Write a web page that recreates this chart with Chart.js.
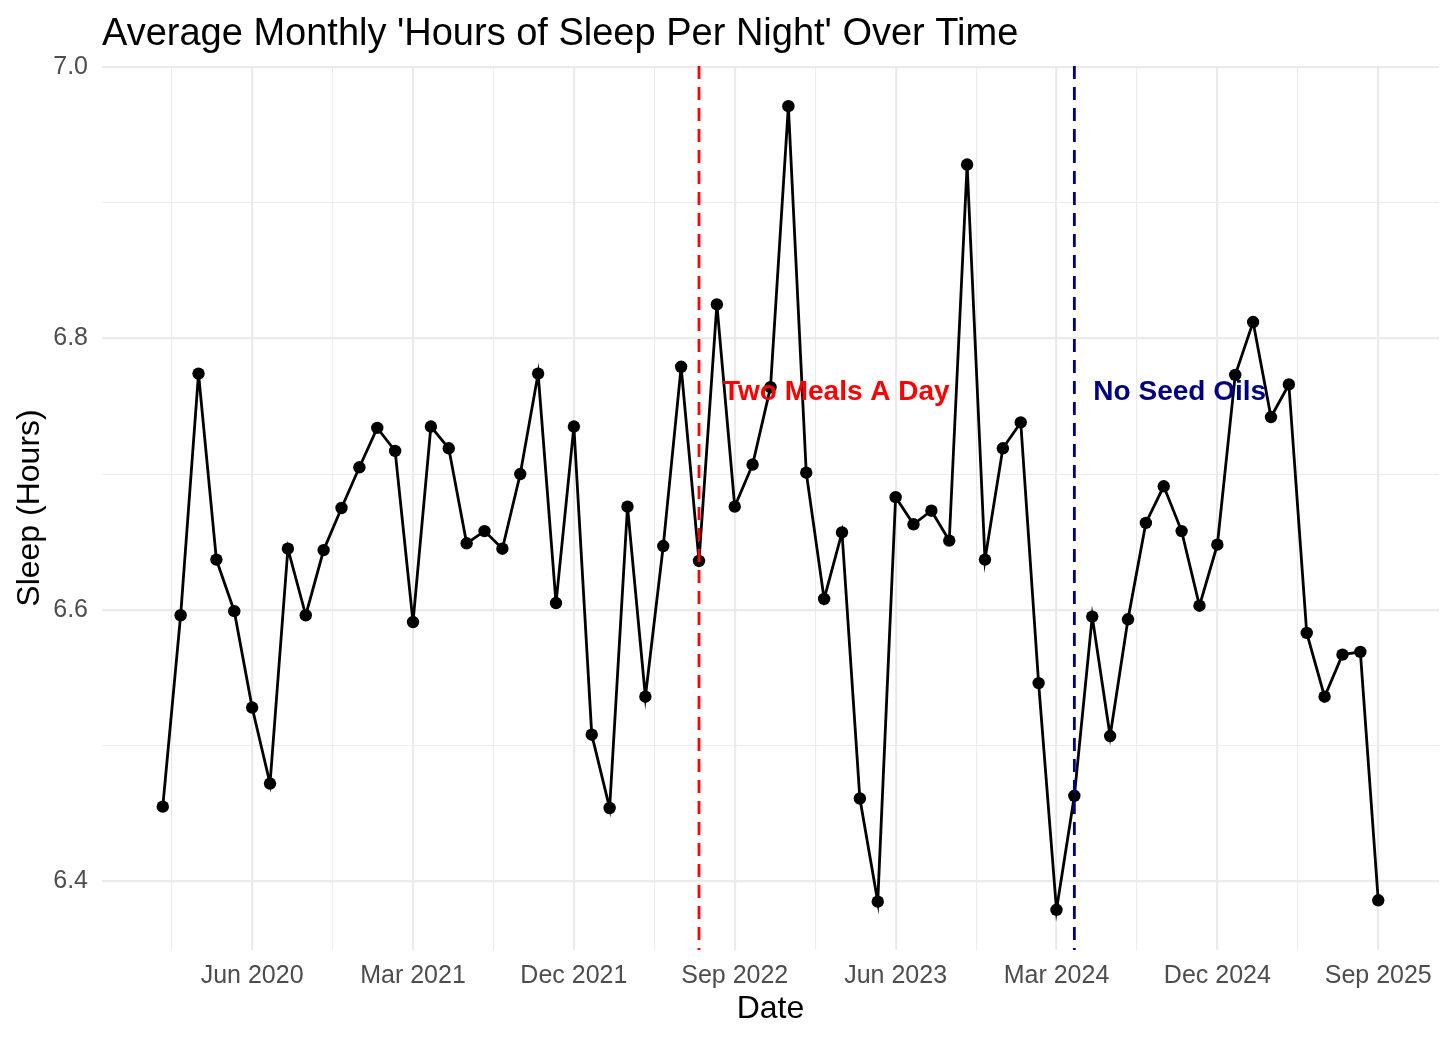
<!DOCTYPE html>
<html>
<head>
<meta charset="utf-8">
<script src="https://cdn.jsdelivr.net/npm/chart.js@4/dist/chart.umd.min.js"></script>
<style>
html,body{margin:0;padding:0;background:#ffffff;}
#wrap{width:1456px;height:1040px;position:relative;}
</style>
</head>
<body>
<div id="wrap"><canvas id="c" width="1456" height="1040"></canvas></div>
<script>
// ---------- DATA ----------
const months = [
  "2020-01","2020-02","2020-03","2020-04","2020-05","2020-06","2020-07","2020-08","2020-09","2020-10","2020-11","2020-12",
  "2021-01","2021-02","2021-03","2021-04","2021-05","2021-06","2021-07","2021-08","2021-09","2021-10","2021-11","2021-12",
  "2022-01","2022-02","2022-03","2022-04","2022-05","2022-06","2022-07","2022-08","2022-09","2022-10","2022-11","2022-12",
  "2023-01","2023-02","2023-03","2023-04","2023-05","2023-06","2023-07","2023-08","2023-09","2023-10","2023-11","2023-12",
  "2024-01","2024-02","2024-03","2024-04","2024-05","2024-06","2024-07","2024-08","2024-09","2024-10","2024-11","2024-12",
  "2025-01","2025-02","2025-03","2025-04","2025-05","2025-06","2025-07","2025-08","2025-09"
];
const sleepHours = [
  6.455, 6.596, 6.774, 6.637, 6.599, 6.528, 6.472, 6.645, 6.596, 6.644, 6.675, 6.705,
  6.734, 6.717, 6.591, 6.735, 6.719, 6.649, 6.658, 6.645, 6.700, 6.774, 6.605, 6.735,
  6.508, 6.454, 6.676, 6.536, 6.647, 6.779, 6.636, 6.825, 6.676, 6.707, 6.764, 6.971,
  6.701, 6.608, 6.657, 6.461, 6.385, 6.683, 6.663, 6.673, 6.651, 6.928, 6.637, 6.719,
  6.738, 6.546, 6.379, 6.463, 6.595, 6.507, 6.593, 6.664, 6.691, 6.658, 6.603, 6.648,
  6.773, 6.812, 6.742, 6.766, 6.583, 6.536, 6.567, 6.569, 6.386
];
const xTickLabels = ["Jun 2020","Mar 2021","Dec 2021","Sep 2022","Jun 2023","Mar 2024","Dec 2024","Sep 2025"];
const yTickValues = [6.4, 6.6, 6.8, 7.0];
const eventMonths = ["2022-07", "2024-04"];
const eventLabels = ["Two Meals A Day", "No Seed Oils"];
const eventLabelHours = [6.76, 6.76];

// ---------- helpers ----------
const MONTH_ABBR = ["Jan","Feb","Mar","Apr","May","Jun","Jul","Aug","Sep","Oct","Nov","Dec"];
const [baseYear] = months[0].split("-").map(Number);
function ymIndex(s){ const [y,m] = s.split("-").map(Number); return (y-baseYear)*12 + (m-1); }
function labelIndex(s){ const [mn, yr] = s.split(" "); return (Number(yr)-baseYear)*12 + MONTH_ABBR.indexOf(mn); }

const xs = months.map(ymIndex);
const points = xs.map((x,i)=>({x:x, y:sleepHours[i]}));
const xMinData = Math.min(...xs), xMaxData = Math.max(...xs);
const xPad = 0.05*(xMaxData-xMinData);
const yMinData = Math.min(...sleepHours), yMaxData = Math.max(...sleepHours);
const yPad = 0.05*(yMaxData-yMinData);
const xMin = xMinData - xPad, xMax = xMaxData + xPad;
const yMin = yMinData - yPad, yMax = yMaxData + yPad;

const xMajor = xTickLabels.map(labelIndex);
const xStep = xMajor[1]-xMajor[0];
let xTickList = [];
xMajor.forEach(v => { xTickList.push({v:v-xStep/2, major:false}); xTickList.push({v:v, major:true}); });
xTickList.push({v:xMajor[xMajor.length-1]+xStep/2, major:false});
xTickList = xTickList.filter(t => t.v >= xMin && t.v <= xMax);
const xMajorLabel = {}; xMajor.forEach((v,i)=>{ xMajorLabel[v] = xTickLabels[i]; });

const yStep = yTickValues[1]-yTickValues[0];
let yTickList = [];
yTickValues.forEach(v => { yTickList.push({v:+(v-yStep/2).toFixed(4), major:false}); yTickList.push({v:v, major:true}); });
yTickList.push({v:+(yTickValues[yTickValues.length-1]+yStep/2).toFixed(4), major:false});
yTickList = yTickList.filter(t => t.v >= yMin && t.v <= yMax);
const yMajorSet = new Set(yTickValues.map(v=>v.toFixed(4)));

const FONT = '"Liberation Sans", Arial, sans-serif';
const GRID = '#ebebeb';

// ---------- plugins ----------
const eventPlugin = {
  id: 'eventLines',
  afterDatasetsDraw(chart, args, opts){
    const {ctx, chartArea, scales:{x, y}} = chart;
    eventMonths.forEach((m, i) => {
      const px = x.getPixelForValue(ymIndex(m));
      ctx.save();
      ctx.beginPath();
      ctx.rect(chartArea.left, chartArea.top, chartArea.right-chartArea.left, chartArea.bottom-chartArea.top);
      ctx.clip();
      ctx.strokeStyle = opts.colors[i];
      ctx.lineWidth = 2.8;
      ctx.setLineDash([13, 8]);
      ctx.beginPath();
      ctx.moveTo(px, chartArea.top);
      ctx.lineTo(px, chartArea.bottom);
      ctx.stroke();
      ctx.restore();
      ctx.save();
      ctx.fillStyle = opts.colors[i];
      ctx.font = 'bold 28px ' + FONT;
      ctx.textAlign = 'left';
      ctx.textBaseline = 'middle';
      ctx.fillText(eventLabels[i], px + opts.offsets[i], y.getPixelForValue(eventLabelHours[i]));
      ctx.restore();
    });
  }
};
const titlePlugin = {
  id: 'ggTitle',
  afterDraw(chart, args, opts){
    const {ctx, chartArea} = chart;
    ctx.save();
    ctx.fillStyle = '#000000';
    ctx.font = '38px ' + FONT;
    ctx.textAlign = 'left';
    ctx.textBaseline = 'alphabetic';
    ctx.fillText(opts.text, chartArea.left, 45);
    ctx.restore();
  }
};

new Chart(document.getElementById('c'), {
  type: 'line',
  data: {
    datasets: [{
      data: points,
      borderColor: '#000000',
      backgroundColor: '#000000',
      borderWidth: 2.8,
      pointRadius: 6.2,
      pointHoverRadius: 6.2,
      pointBorderWidth: 0,
      pointBackgroundColor: '#000000',
      tension: 0,
      fill: false
    }]
  },
  options: {
    responsive: false,
    animation: false,
    devicePixelRatio: 1,
    events: [],
    layout: { padding: { top: 66, right: 17, left: 0, bottom: 0 } },
    plugins: {
      legend: { display: false },
      tooltip: { enabled: false },
      eventLines: { colors: ['#ff0000', '#000080'], offsets: [24, 19] },
      ggTitle: { text: "Average Monthly 'Hours of Sleep Per Night' Over Time" }
    },
    scales: {
      x: {
        type: 'linear',
        min: xMin, max: xMax,
        afterBuildTicks: (s) => { s.ticks = xTickList.map(t => ({value: t.v})); },
        afterFit: (s) => { s.height = 90; },
        border: { display: false },
        grid: {
          color: GRID,
          drawTicks: false,
          lineWidth: (c) => (c.tick && xMajorLabel[c.tick.value] !== undefined) ? 2.2 : 1.1
        },
        ticks: {
          autoSkip: false, maxRotation: 0, minRotation: 0,
          padding: 11,
          color: '#4d4d4d',
          font: { family: FONT, size: 25 },
          callback: (v) => xMajorLabel[v] !== undefined ? xMajorLabel[v] : ''
        },
        title: {
          display: true, text: 'Date', color: '#000000',
          font: { family: FONT, size: 32 },
          padding: { top: 0, bottom: 12 }
        }
      },
      y: {
        type: 'linear',
        min: yMin, max: yMax,
        afterBuildTicks: (s) => { s.ticks = yTickList.map(t => ({value: t.v})); },
        afterFit: (s) => { s.width = 102; },
        border: { display: false },
        grid: {
          color: GRID,
          drawTicks: false,
          lineWidth: (c) => (c.tick && yMajorSet.has(c.tick.value.toFixed(4))) ? 2.2 : 1.1
        },
        ticks: {
          autoSkip: false,
          padding: 14,
          color: '#4d4d4d',
          font: { family: FONT, size: 25 },
          callback: (v) => yMajorSet.has(Number(v).toFixed(4)) ? Number(v).toFixed(1) : ''
        },
        title: {
          display: true, text: 'Sleep (Hours)', color: '#000000',
          font: { family: FONT, size: 32 },
          padding: { top: 11, bottom: 0 }
        }
      }
    }
  },
  plugins: [eventPlugin, titlePlugin]
});
</script>
</body>
</html>
